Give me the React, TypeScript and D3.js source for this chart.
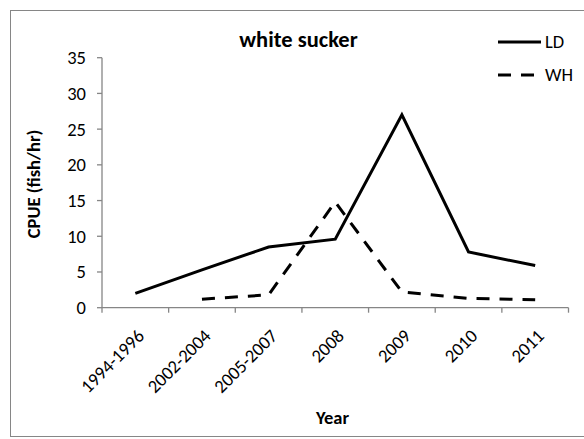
import React from "react";
import * as d3 from "d3";

const categories = ["1994-1996", "2002-2004", "2005-2007", "2008", "2009", "2010", "2011"];
const ldValues: (number | null)[] = [2.0, 5.3, 8.5, 9.6, 27.0, 7.8, 5.9];
const whValues: (number | null)[] = [null, 1.2, 1.8, 14.8, 2.2, 1.3, 1.1];
const yTicks = [0, 5, 10, 15, 20, 25, 30, 35];
const seriesNames = ["LD", "WH"];

const W = 584;
const H = 439;
const font = "Carlito, Calibri, Lato, sans-serif";
const fs = 18.5;

export default function App() {
  const x = d3.scaleBand<string>().domain(categories).range([102, 568.5]);
  const y = d3.scaleLinear().domain([0, 35]).range([307.7, 57.7]);
  const cx = (c: string) => (x(c) as number) + x.bandwidth() / 2;

  const line = d3
    .line<{ c: string; v: number | null }>()
    .defined((d) => d.v !== null)
    .x((d) => cx(d.c))
    .y((d) => y(d.v as number));

  const ld = categories.map((c, i) => ({ c, v: ldValues[i] }));
  const wh = categories.map((c, i) => ({ c, v: whValues[i] }));
  const gray = "#868686";

  const xTickPos = [...categories.map((c) => x(c) as number), 568.5];

  return (
    <svg width={W} height={H} style={{ position: "absolute", left: 0, top: 0 }}>
      <rect x={0} y={0} width={W} height={H} fill="#fff" />
      <rect x={10.5} y={10.5} width={600} height={426} fill="none" stroke={gray} strokeWidth={1} />
      <text x={298.5} y={47} textAnchor="middle" fontFamily={font} fontWeight="bold" fontSize={22.5} fill="#000">
        white sucker
      </text>
      {/* y axis */}
      <line x1={102} x2={102} y1={y(35)} y2={y(0)} stroke={gray} strokeWidth={1.3} />
      {yTicks.map((t) => (
        <g key={t}>
          <line x1={97} x2={102} y1={y(t)} y2={y(t)} stroke={gray} strokeWidth={1.3} />
          <text x={86} y={y(t)} dy="0.35em" textAnchor="end" fontFamily={font} fontSize={fs} fill="#000">
            {t}
          </text>
        </g>
      ))}
      {/* x axis */}
      <line x1={102} x2={568.5} y1={y(0)} y2={y(0)} stroke={gray} strokeWidth={1.3} />
      {xTickPos.map((p, i) => (
        <line key={i} x1={p} x2={p} y1={y(0)} y2={y(0) + 5} stroke={gray} strokeWidth={1.3} />
      ))}
      {categories.map((c) => (
        <text
          key={c}
          transform={`translate(${cx(c) + 10},${337}) rotate(-45)`}
          textAnchor="end"
          fontFamily={font}
          fontSize={fs}
          fill="#000"
        >
          {c}
        </text>
      ))}
      <text x={332.5} y={424} textAnchor="middle" fontFamily={font} fontWeight="bold" fontSize={fs} fill="#000">
        Year
      </text>
      <text
        transform={`translate(40,184) rotate(-90)`}
        textAnchor="middle"
        fontFamily={font}
        fontWeight="bold"
        fontSize={fs}
        fill="#000"
      >
        CPUE (fish/hr)
      </text>
      {/* series */}
      <path d={line(ld) || ""} fill="none" stroke="#000" strokeWidth={3} />
      <path d={line(wh) || ""} fill="none" stroke="#000" strokeWidth={3} strokeDasharray="13,10" />
      {/* legend */}
      <line x1={498} x2={541} y1={42} y2={42} stroke="#000" strokeWidth={3} />
      <text x={545} y={42} dy="0.35em" fontFamily={font} fontSize={fs} fill="#000">
        {seriesNames[0]}
      </text>
      <line x1={498} x2={541} y1={75} y2={75} stroke="#000" strokeWidth={3} strokeDasharray="13,10" />
      <text x={545} y={75} dy="0.35em" fontFamily={font} fontSize={fs} fill="#000">
        {seriesNames[1]}
      </text>
    </svg>
  );
}
